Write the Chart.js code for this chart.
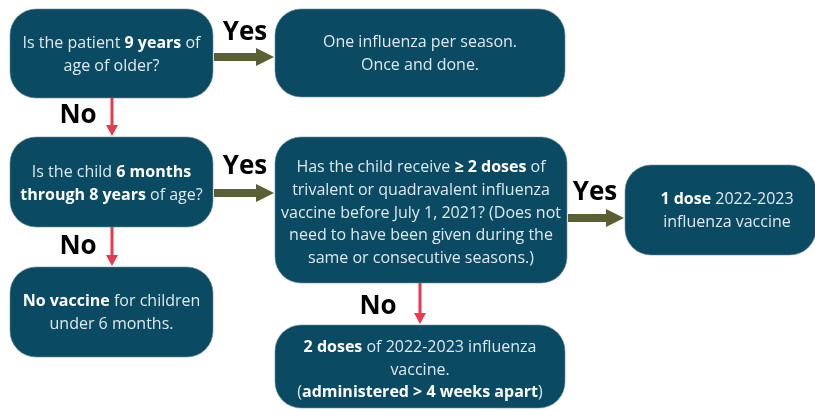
<!DOCTYPE html>
<html>
<head>
<meta charset="utf-8">
<script src="https://cdn.jsdelivr.net/npm/chart.js@4"></script>
<style>
  html, body { margin: 0; padding: 0; background: #fff; }
  #wrap { width: 815px; height: 410px; position: relative; }
</style>
</head>
<body>
<div id="wrap"><canvas id="flow"></canvas></div>
<script>
// node texts (** marks bold)
const nodeText = [
  ["Is the patient **9 years** of", "age of older?"],
  ["One influenza per season.", "Once and done."],
  ["Is the child **6 months**", "**through 8 years** of age?"],
  ["Has the child receive **≥ 2 doses** of", "trivalent or quadravalent influenza", "vaccine before July 1, 2021? (Does not", "need to have been given during the", "same or consecutive seasons.)"],
  ["**1 dose** 2022-2023", "influenza vaccine"],
  ["**No vaccine** for children", "under 6 months."],
  ["**2 doses** of 2022-2023 influenza", "vaccine.", "(**administered > 4 weeks apart**)"]
];
// edges: from node, to node, answer
const edgeFrom = [0, 0, 2, 2, 3, 3];
const edgeTo = [1, 2, 3, 5, 4, 6];
const edgeAnswer = ["Yes", "No", "Yes", "No", "Yes", "No"];

// layout (page units)
const boxes = [
  { x0: 10, x1: 213, y0: 9, y1: 98, ty: 55 },
  { x0: 275, x1: 565, y0: 9, y1: 97, ty: 54 },
  { x0: 10, x1: 213, y0: 137, y1: 227, ty: 184 },
  { x0: 275, x1: 567, y0: 137, y1: 283, ty: 213 },
  { x0: 625, x1: 816, y0: 165, y1: 255, ty: 211, tx: 727 },
  { x0: 10, x1: 213, y0: 267, y1: 357, ty: 313 },
  { x0: 275, x1: 565, y0: 325, y1: 408, ty: 370 }
];
const labelPos = [[245, 33], [78, 116], [245, 167], [78, 247], [595, 193], [378, 307]];

const BOX = "#0b4a63", TXT = "#dfe8ec", YES = "#5b5f33", NO = "#e8394e";
const FONT = "'Open Sans', sans-serif";

function drawRich(ctx, line, cx, y, size) {
  const parts = line.split("**");
  let w = 0;
  parts.forEach((p, i) => {
    ctx.font = (i % 2 ? "bold " : "") + size + "px " + FONT;
    w += ctx.measureText(p).width;
  });
  let x = cx - w / 2;
  parts.forEach((p, i) => {
    ctx.font = (i % 2 ? "bold " : "") + size + "px " + FONT;
    ctx.fillStyle = i % 2 ? "#ffffff" : TXT;
    ctx.fillText(p, x, y);
    x += ctx.measureText(p).width;
  });
}

const flowPlugin = {
  id: "flow",
  afterDatasetsDraw(chart) {
    const ctx = chart.ctx, sx = chart.scales.x, sy = chart.scales.y;
    const px = v => sx.getPixelForValue(v), py = v => sy.getPixelForValue(v);
    ctx.save();
    // boxes
    boxes.forEach((b, i) => {
      const x0 = px(b.x0), x1 = px(b.x1), y0 = py(b.y0), y1 = py(b.y1);
      ctx.beginPath();
      ctx.roundRect(x0, y0, x1 - x0, y1 - y0, 26);
      ctx.fillStyle = BOX;
      ctx.fill();
      ctx.strokeStyle = "#6f8fa0";
      ctx.lineWidth = 0.6;
      ctx.stroke();
      const lines = nodeText[i];
      const lh = 22.8;
      const top = py(b.ty) - (lines.length - 1) * lh / 2;
      const cx = b.tx ? px(b.tx) : (x0 + x1) / 2;
      ctx.textBaseline = "middle";
      ctx.textAlign = "left";
      lines.forEach((ln, k) => drawRich(ctx, ln, cx, top + k * lh, 16));
    });
    // arrows
    edgeFrom.forEach((f, i) => {
      const a = boxes[f], b = boxes[edgeTo[i]];
      ctx.beginPath();
      if (edgeAnswer[i] === "Yes") {
        const y = py(f === 3 ? 218 : (f === 0 ? 57 : 193));
        const xs = px(a.x1) + 1, xe = px(b.x0) - 1;
        ctx.fillStyle = YES;
        ctx.fillRect(xs, y - 4, xe - 18 - xs, 8);
        ctx.moveTo(xe - 18, y - 9); ctx.lineTo(xe, y); ctx.lineTo(xe - 18, y + 9);
        ctx.closePath(); ctx.fill();
      } else {
        const x = px(f === 3 ? 420 : 112);
        const ys = py(a.y1), ye = py(b.y0) - 1;
        ctx.fillStyle = NO;
        ctx.fillRect(x - 1.5, ys, 3, ye - 10 - ys);
        ctx.moveTo(x - 6, ye - 11); ctx.lineTo(x, ye); ctx.lineTo(x + 6, ye - 11);
        ctx.closePath(); ctx.fill();
      }
      ctx.font = "bold 26px " + FONT;
      ctx.fillStyle = "#000";
      ctx.textAlign = "center";
      ctx.textBaseline = "middle";
      ctx.fillText(edgeAnswer[i], px(labelPos[i][0]), py(labelPos[i][1]));
    });
    ctx.restore();
  }
};

new Chart(document.getElementById("flow"), {
  type: "scatter",
  data: { datasets: [{ data: [] }] },
  options: {
    responsive: true,
    maintainAspectRatio: false,
    animation: false,
    layout: { padding: 0 },
    plugins: { legend: { display: false }, tooltip: { enabled: false } },
    scales: {
      x: { type: "linear", min: 0, max: 815, display: false },
      y: { type: "linear", min: 0, max: 410, reverse: true, display: false }
    }
  },
  plugins: [flowPlugin]
});
</script>
</body>
</html>
